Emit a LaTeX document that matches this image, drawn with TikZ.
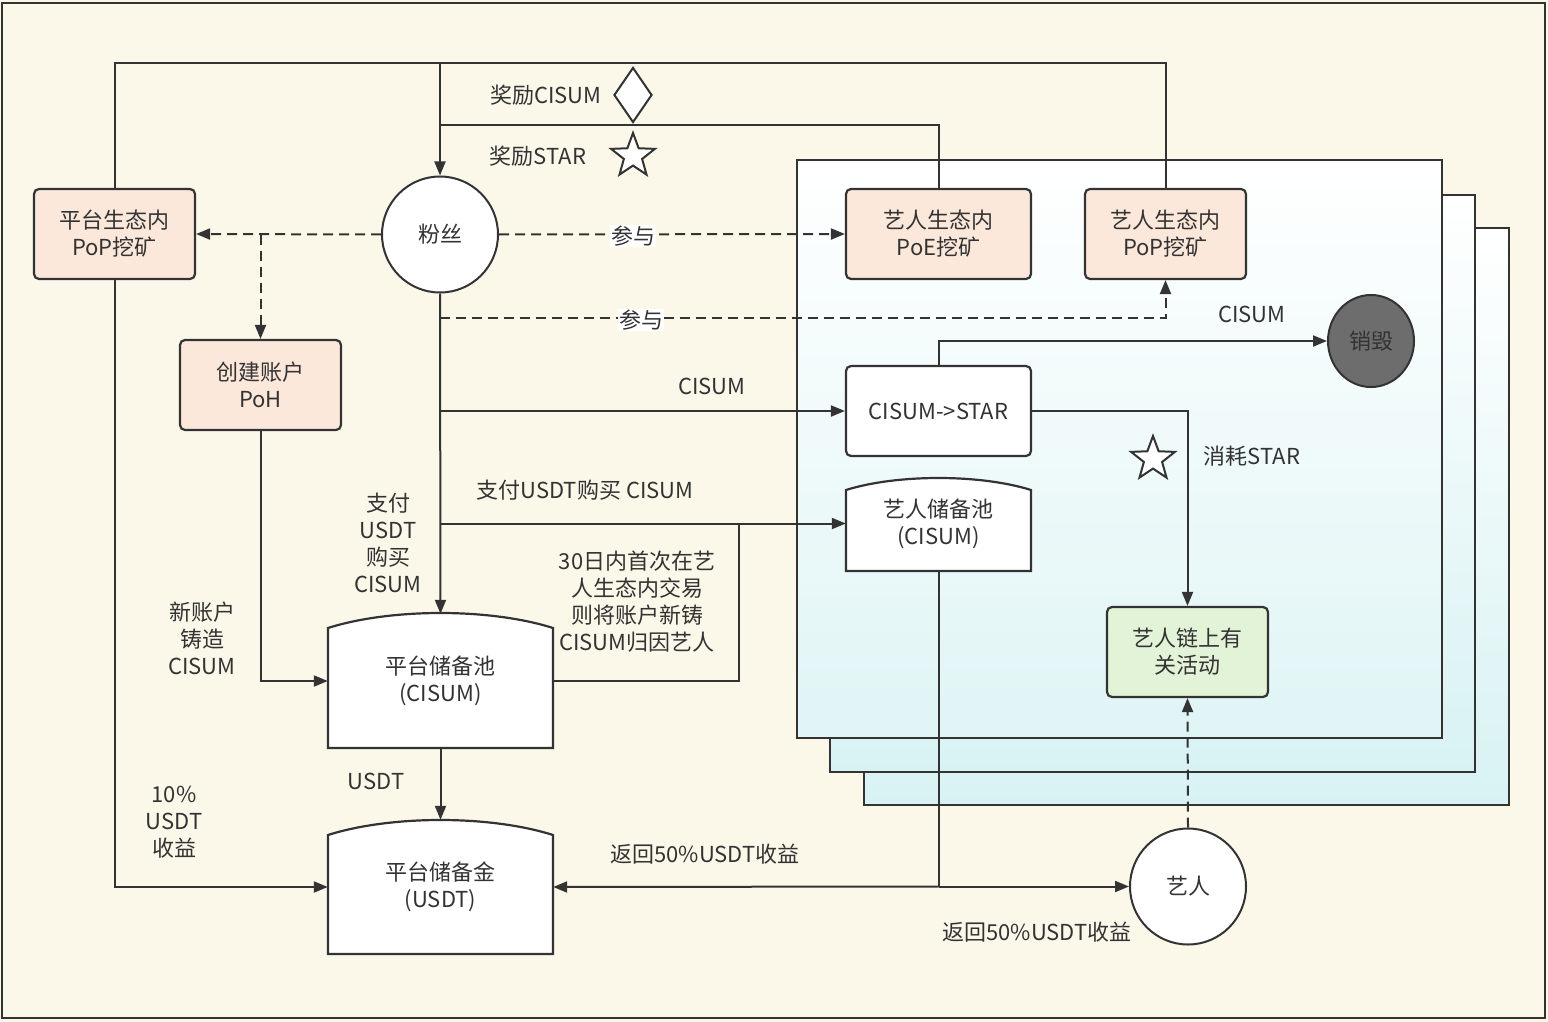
\documentclass[tikz,border=0pt]{standalone}
\usepackage{fontspec}
\setmainfont{Noto Sans CJK SC}
\usetikzlibrary{arrows.meta,shapes.geometric}
\definecolor{bg}{HTML}{FBF8EA}
\definecolor{ln}{HTML}{333333}
\definecolor{peach}{HTML}{FCE8DA}
\definecolor{mint}{HTML}{E3F3D7}
\definecolor{cyanl}{HTML}{D8F2F3}
\definecolor{burnc}{HTML}{6D6D6D}
\begin{document}
\begin{tikzpicture}[x=1pt,y=-1pt,
  font=\fontsize{22}{27}\selectfont, text=ln,
  box/.style={draw=ln, line width=2.2pt, rounded corners=5pt, minimum width=161pt, minimum height=90pt, align=center, inner sep=0pt},
  pbox/.style={box, fill=peach},
  tank/.style={minimum width=225pt, minimum height=134pt, align=center, inner sep=0pt},
  circ/.style={circle, draw=ln, line width=2pt, fill=white, minimum size=116pt, inner sep=0pt},
  line/.style={draw=ln, line width=2pt},
  conn/.style={line, -{Triangle[length=14pt,width=11pt]}},
  dconn/.style={conn, dash pattern=on 10pt off 6pt},
  lbl/.style={align=center, inner sep=1pt},
  wlbl/.style={fill=white, inner sep=1pt},
  tankline/.style={draw=ln, line width=2.2pt, fill=white}
]
\useasboundingbox (0,0) rectangle (1548,1022);
\fill[bg] (0,0) rectangle (1548,1022);
\draw[ln, line width=2pt] (2,3) rectangle (1545,1018);

% stacked panels
\shadedraw[top color=white, bottom color=cyanl, draw=ln, line width=2pt] (864,228) rectangle (1509,805);
\shadedraw[top color=white, bottom color=cyanl, draw=ln, line width=2pt] (830,195) rectangle (1475,772);
\shadedraw[top color=white, bottom color=cyanl!80!white, draw=ln, line width=2pt] (797,160) rectangle (1442,738);

% tank outlines
\path[tankline] (328,628) -- (328,748) -- (553,748) -- (553,628) .. controls (490,608) and (391,608) .. (328,628) -- cycle;
\path[tankline] (328,835) -- (328,954) -- (553,954) -- (553,835) .. controls (490,815) and (391,815) .. (328,835) -- cycle;
\path[tankline] (846,490) -- (846,571) -- (1031,571) -- (1031,490) .. controls (980,474) and (897,474) .. (846,490) -- cycle;

% nodes
\node[pbox] (ppop) at (114.5,234) {平台生态内\\PoP挖矿};
\node[pbox] (poh) at (260.5,385) {创建账户\\PoH};
\node[circ] (fan) at (440,234.5) {粉丝};
\node[pbox, minimum width=185pt] (poe) at (938.5,234) {艺人生态内\\PoE挖矿};
\node[pbox] (apop) at (1165.5,234) {艺人生态内\\PoP挖矿};
\node[box, fill=white, minimum width=185pt] (cs) at (938.5,411) {CISUM->STAR};
\node[ellipse, draw=ln, fill=burnc, line width=2pt, minimum width=86pt, minimum height=92pt, inner sep=0pt] (burn) at (1371,341) {销毁};
\node[box, fill=mint] (act) at (1187.5,652) {艺人链上有\\关活动};
\node[circ] (artist) at (1188,886.5) {艺人};
\node[tank] (ppool) at (440.5,681) {平台储备池\\(CISUM)};
\node[tank] (pfund) at (440.5,887) {平台储备金\\(USDT)};
\node[tank, minimum width=185pt, minimum height=93pt] (apool) at (938.5,523.5) {艺人储备池\\(CISUM)};

% coordinates
\coordinate (t1) at (440,63);
\coordinate (t2) at (440,125);
\coordinate (d1) at (260.5,234.5);
\coordinate (d2) at (440,318);
\coordinate (b1) at (440,411);
\coordinate (b2) at (440,523.5);
\coordinate (b3) at (739,523.5);
\coordinate (j) at (938.5,886.5);

% top loop
\draw[line] (ppop.north) -- (ppop.north |- t1) -- (apop.north |- t1) -- (apop.north);
\draw[conn] (t1) -- (fan.north);
\draw[line] (poe.north) -- (poe.north |- t2) -- (t2);

% dashed
\draw[dconn] (fan.west) -- (ppop.east);
\draw[dconn] (d1) -- (poh.north);
\draw[dconn] (fan.east) -- (poe.west);
\draw[dconn] (d2) -| (apop.south);
\node[wlbl] (l1) at (633,236) {参与};
\node[wlbl] (l2) at (641,320) {参与};

% main flows
\draw[conn] (fan.south) -- (ppool.north);
\draw[conn] (b1) -- (cs.west);
\draw[conn] (b2) -- (apool.west);
\draw[line] (ppool.east) -| (b3);
\draw[conn] (poh.south) |- (ppool.west);
\draw[conn] (ppool.south) -- (pfund.north);
\draw[conn] (ppop.south) |- (pfund.west);
\draw[line] (apool.south) -- (j);
\draw[conn] (j) -- (pfund.east);
\draw[conn] (j) -- (artist.west);
\draw[conn] (cs.north) |- (burn.west);
\draw[conn] (cs.east) -| (act.north);
\draw[dconn] (artist.north) -- (act.south);

% symbols
\node[diamond, draw=ln, fill=white, line width=2pt, minimum width=38pt, minimum height=55pt, inner sep=0pt] (dia) at (633,95) {};
\node[star, star points=5, star point ratio=2.4, draw=ln, fill=white, line width=2pt, minimum size=46pt, inner sep=0pt] (st1) at (633,156) {};
\node[star, star points=5, star point ratio=2.4, draw=ln, fill=white, line width=2pt, minimum size=46pt, inner sep=0pt] (st2) at (1153,459) {};

% labels
\node[lbl] (a1) at (546,95) {奖励CISUM};
\node[lbl] (a2) at (538,156) {奖励STAR};
\node[lbl] (a3) at (712,386) {CISUM};
\node[lbl] (a4) at (585,490) {支付USDT购买 CISUM};
\node[lbl] (a5) at (388,543) {支付\\USDT\\购买\\CISUM};
\node[lbl] (a6) at (637,602) {30日内首次在艺\\人生态内交易\\则将账户新铸\\CISUM归因艺人};
\node[lbl] (a7) at (202,638) {新账户\\铸造\\CISUM};
\node[lbl] (a8) at (376,781) {USDT};
\node[lbl] (a9) at (174,822) {10\%\\USDT\\收益};
\node[lbl] (a10) at (705,854) {返回50\%USDT收益};
\node[lbl] (a11) at (1037,932) {返回50\%USDT收益};
\node[lbl] (a12) at (1252,314) {CISUM};
\node[lbl] (a13) at (1252,456) {消耗STAR};
\end{tikzpicture}
\end{document}
